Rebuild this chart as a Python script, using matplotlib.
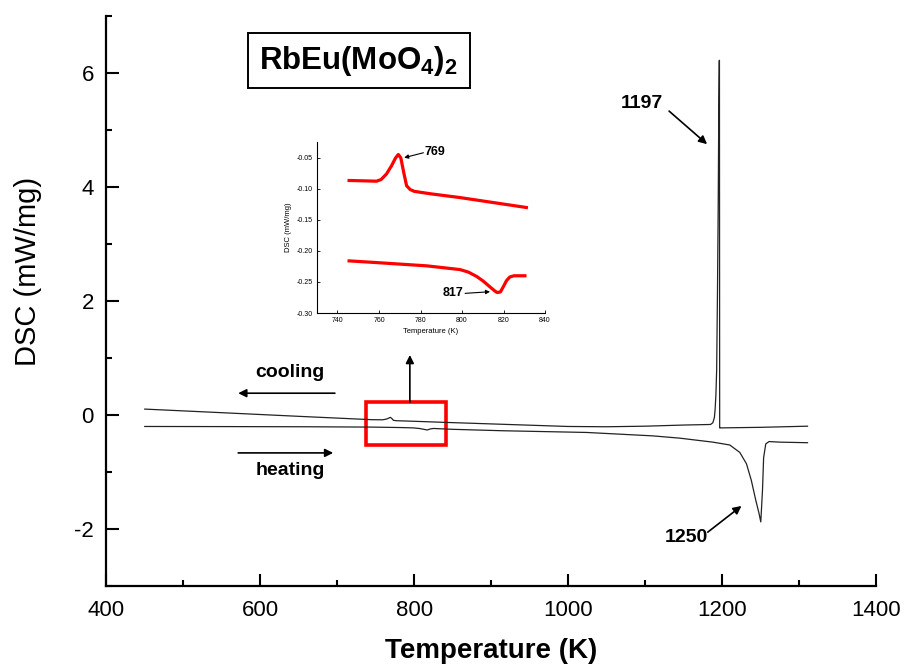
import numpy as np
import matplotlib
matplotlib.use('Agg')
import matplotlib.pyplot as plt
from matplotlib.patches import Rectangle

plt.rcParams['font.family'] = ['Liberation Sans', 'DejaVu Sans']
plt.rcParams['mathtext.fontset'] = 'custom'
plt.rcParams['mathtext.rm'] = 'Liberation Sans'
plt.rcParams['mathtext.bf'] = 'Liberation Sans:bold'
plt.rcParams['axes.unicode_minus'] = False

# main DSC curves
cool_T = [450, 550, 650, 745, 759, 764, 767, 769, 771, 773, 777, 800, 842, 900,
          1000, 1050, 1100, 1150, 1185, 1188, 1190, 1191, 1192, 1193, 1194, 1195,
          1195.8, 1196.3, 1196.6, 1196.9, 1198, 1250, 1311]
cool_dsc = [0.10, 0.037, -0.027, -0.086, -0.088, -0.075, -0.058, -0.045, -0.065,
            -0.097, -0.104, -0.114, -0.134, -0.16, -0.205, -0.21, -0.20, -0.18,
            -0.17, -0.14, -0.05, 0.1, 0.35, 0.8, 2.1, 3.7, 5.5, 6.22, 6.22, -0.23,
            -0.23, -0.22, -0.20]
heat_T = [450, 550, 660, 745, 783, 799, 807, 813, 817, 821, 825, 850, 915, 1024,
          1110, 1145, 1188, 1210, 1223, 1231.7, 1238, 1243.8, 1248, 1250.3, 1252.5,
          1254, 1256.8, 1261, 1275, 1311]
heat_dsc = [-0.205, -0.207, -0.21, -0.216, -0.224, -0.230, -0.241, -0.256, -0.267,
            -0.248, -0.24, -0.255, -0.28, -0.31, -0.37, -0.41, -0.48, -0.53, -0.66,
            -0.86, -1.15, -1.50, -1.73, -1.88, -1.33, -0.75, -0.51, -0.47, -0.48,
            -0.49]

# inset (zoom on 730-840 K)
ins_cool_T = [745.6, 752, 758.8, 761, 763.6, 766, 768, 769.3, 770.5, 772, 773.3,
              775, 777, 785, 799, 815, 831]
ins_cool = [-0.0865, -0.087, -0.0876, -0.085, -0.076, -0.063, -0.050, -0.0446,
            -0.050, -0.075, -0.095, -0.101, -0.104, -0.108, -0.114, -0.122, -0.130]
ins_heat_T = [745.6, 760, 783, 799, 803, 807, 810, 813.5, 816, 817, 818.5, 820,
              821.4, 823, 825, 830.3]
ins_heat = [-0.216, -0.219, -0.224, -0.230, -0.234, -0.241, -0.248, -0.258, -0.265,
            -0.267, -0.266, -0.257, -0.248, -0.242, -0.240, -0.240]
ins_xticks = [740, 760, 780, 800, 820, 840]
ins_yticks = [-0.30, -0.25, -0.20, -0.15, -0.10, -0.05]

fig = plt.figure(figsize=(9.06, 6.71), dpi=100)
ax = fig.add_axes([0.1173, 0.1271, 0.8496, 0.8491])

ax.plot(cool_T, cool_dsc, color='#222222', lw=0.9)
ax.plot(heat_T, heat_dsc, color='#222222', lw=0.9)

ax.set_xlim(400, 1400)
ax.set_ylim(-3, 7)
ax.set_xticks(np.arange(400, 1401, 200))
ax.set_xticks(np.arange(500, 1400, 200), minor=True)
ax.set_yticks(np.arange(-2, 7, 2))
ax.set_yticks(np.arange(-3, 8, 2), minor=True)
for s in ['top', 'right']:
    ax.spines[s].set_visible(False)
for s in ['left', 'bottom']:
    ax.spines[s].set_linewidth(1.6)
ax.tick_params(which='both', direction='in', width=1.5, labelsize=16)
ax.tick_params(which='major', length=9)
ax.tick_params(which='minor', length=4.5)
ax.tick_params(axis='x', pad=10)
ax.tick_params(axis='y', pad=9)

ax.set_xlabel('Temperature (K)', fontsize=20, fontweight='bold')
ax.xaxis.set_label_coords(0.5, -0.092)
ax.set_ylabel('DSC (mW/mg)', fontsize=21)
ax.yaxis.set_label_coords(-0.084, 0.552)

# compound label in a box
ax.add_patch(Rectangle((0.1837, 0.873), 0.2888, 0.0966, transform=ax.transAxes,
                       fill=False, lw=1.4, ec='k'))
ax.text(0.328, 0.921, r'$\mathbf{RbEu(MoO_4)_2}$', transform=ax.transAxes,
        fontsize=22.5, ha='center', va='center')

arrow = dict(arrowstyle='-|>', color='k', lw=1.2, mutation_scale=12,
             shrinkA=0, shrinkB=0)
ax.annotate('', xy=(1180.5, 4.75), xytext=(1131.2, 5.33), arrowprops=arrow)
ax.text(1095.7, 5.47, '1197', fontsize=14, fontweight='bold', ha='center', va='center')
ax.annotate('', xy=(1225.2, -1.60), xytext=(1181.4, -2.06), arrowprops=arrow)
ax.text(1154, -2.15, '1250', fontsize=14, fontweight='bold', ha='center', va='center')

ax.annotate('', xy=(571.4, 0.379), xytext=(697, 0.379), arrowprops=arrow)
ax.text(638.6, 0.739, 'cooling', fontsize=14, fontweight='bold', ha='center', va='center')
ax.annotate('', xy=(694.8, -0.669), xytext=(571.4, -0.669), arrowprops=arrow)
ax.text(639.2, -0.978, 'heating', fontsize=14, fontweight='bold', ha='center', va='center')

# red box marking the zoomed region and arrow up to the inset
ax.add_patch(Rectangle((738, -0.53), 103, 0.75, fill=False, ec='#ff0000', lw=2.6))
ax.annotate('', xy=(794.4, 1.05), xytext=(794.4, 0.22), arrowprops=arrow)

# inset
axi = fig.add_axes([0.3496, 0.5335, 0.2520, 0.2544])
axi.plot(ins_cool_T, ins_cool, color='#ff0000', lw=2.3)
axi.plot(ins_heat_T, ins_heat, color='#ff0000', lw=2.3)
axi.set_xlim(730, 840)
axi.set_ylim(-0.30, -0.025)
axi.set_xticks(ins_xticks)
axi.set_yticks(ins_yticks)
axi.set_xticklabels([str(t) for t in ins_xticks])
axi.set_yticklabels(['%.2f' % t for t in ins_yticks])
for s in ['top', 'right']:
    axi.spines[s].set_visible(False)
for s in ['left', 'bottom']:
    axi.spines[s].set_linewidth(0.8)
axi.tick_params(direction='in', length=2.5, width=0.6, labelsize=5, pad=3)
axi.set_xlabel('Temperature (K)', fontsize=5.5, labelpad=3)
axi.set_ylabel('DSC (mW/mg)', fontsize=5.5, labelpad=3)
axi.patch.set_alpha(0)

small_arrow = dict(arrowstyle='-|>', color='k', lw=0.8, mutation_scale=6,
                   shrinkA=0, shrinkB=0)
axi.annotate('', xy=(772.1, -0.0498), xytext=(781.4, -0.0418), arrowprops=small_arrow)
axi.text(782, -0.040, '769', fontsize=9, fontweight='bold', ha='left', va='center')
axi.annotate('', xy=(813.5, -0.2657), xytext=(801.5, -0.2683), arrowprops=small_arrow)
axi.text(800.5, -0.2683, '817', fontsize=9, fontweight='bold', ha='right', va='center')

fig.savefig('out.png', dpi=100)
